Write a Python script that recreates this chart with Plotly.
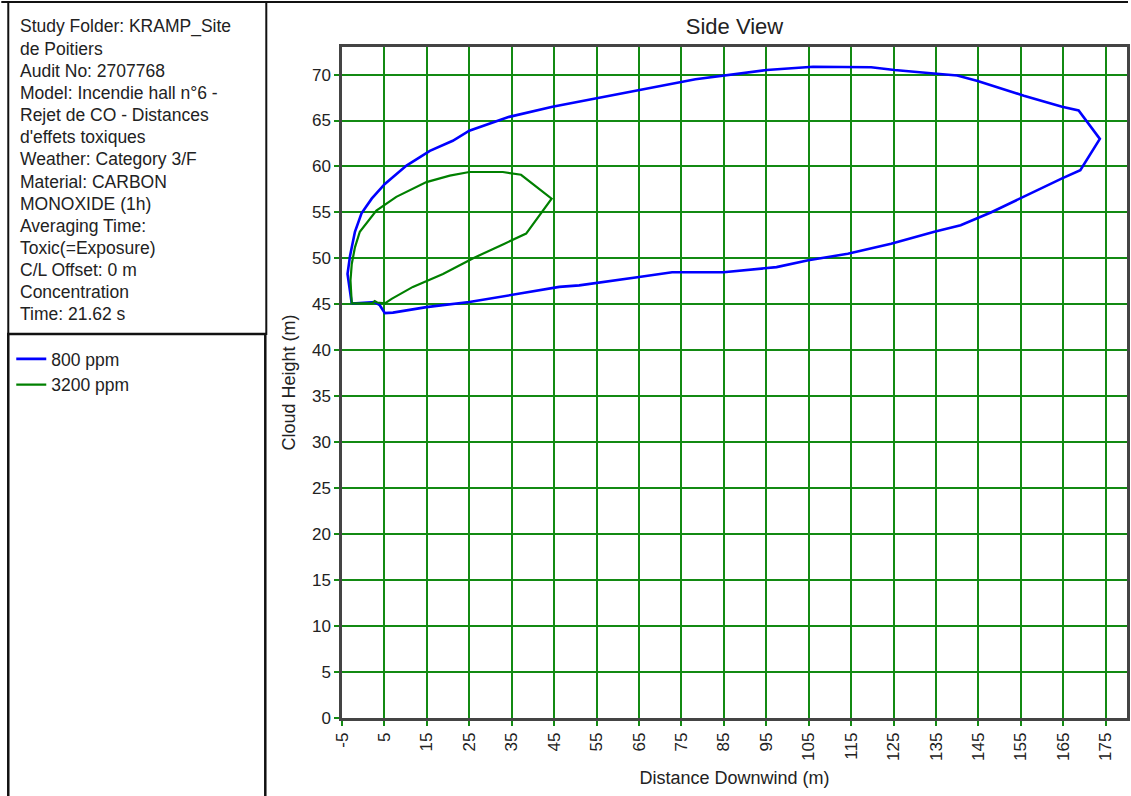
import plotly.graph_objects as go

# ---- data ----
blue_x = [-2.7, -3.3, -3.7, -3.1, -1.95, -0.4, 2.0, 5.1, 10.2, 15.7, 21.1, 25.0, 34.4, 44.6, 54.8, 65.0,
          78.3, 95.1, 106.0, 119.7, 125.2, 133.8, 140.0, 144.8, 155.7, 164.7, 168.6, 173.6, 169.0, 164.7,
          155.7, 147.9, 140.8, 134.6, 124.4, 114.2, 104.9, 97.4, 84.9, 72.8, 65.0, 50.9, 46.2, 34.8,
          25.0, 14.9, 7.0, 5.1, 3.9, 2.75, -2.7]
blue_y = [45.1, 47.2, 48.3, 50.3, 52.9, 54.9, 56.5, 58.1, 60.1, 61.7, 62.8, 63.9, 65.4, 66.5, 67.4, 68.3,
          69.5, 70.5, 70.85, 70.8, 70.5, 70.15, 69.9, 69.3, 67.7, 66.5, 66.1, 63.0, 59.6, 58.7,
          56.7, 55.0, 53.6, 52.9, 51.6, 50.5, 49.8, 49.05, 48.5, 48.5, 47.97, 47.07, 46.9, 46.05,
          45.25, 44.7, 44.1, 44.05, 44.9, 45.25, 45.1]

green_x = [-2.7, -3.0, -2.7, -1.95, -0.8, 3.1, 7.8, 14.9, 20.4, 25.0, 32.9, 37.2, 44.4, 38.4, 33.3,
           25.8, 18.8, 11.7, 6.7, 5.1, 3.3, 2.7, 2.1, -2.7]
green_y = [45.1, 47.6, 49.4, 51.2, 52.9, 55.2, 56.7, 58.3, 59.0, 59.4, 59.4, 59.1, 56.5, 52.7, 51.6,
           50.0, 48.3, 46.9, 45.6, 45.1, 45.2, 45.35, 45.1, 45.1]

series_names = ["800 ppm", "3200 ppm"]
series_colors = ["#0000ff", "#008000"]

x_ticks = list(range(-5, 180, 10))
y_ticks = list(range(0, 75, 5))

info_lines = [
    "Study Folder: KRAMP_Site",
    "de Poitiers",
    "Audit No: 2707768",
    "Model: Incendie hall n°6 -",
    "Rejet de CO - Distances",
    "d'effets toxiques",
    "Weather: Category 3/F",
    "Material: CARBON",
    "MONOXIDE (1h)",
    "Averaging Time:",
    "Toxic(=Exposure)",
    "C/L Offset: 0 m",
    "Concentration",
    "Time: 21.62 s",
]

# ---- geometry helpers (pixel -> paper) ----
W, H = 1131, 796
L, R, T, B = 342, 1, 47, 78
PW = W - L - R
PH = H - T - B


def px(x):
    return (x - L) / PW


def py(y):
    return (H - B - y) / PH


FONT = "Liberation Sans, Arial, sans-serif"
GRID = "#138a13"
TXT = "#222"

fig = go.Figure()
fig.add_trace(go.Scatter(x=blue_x, y=blue_y, mode="lines", name=series_names[0],
                         line=dict(color=series_colors[0], width=2.6)))
fig.add_trace(go.Scatter(x=green_x, y=green_y, mode="lines", name=series_names[1],
                         line=dict(color=series_colors[1], width=2.2)))

shapes = [
    # outer top line
    dict(type="line", xref="paper", yref="paper", x0=px(0), x1=px(W), y0=py(2), y1=py(2),
         line=dict(color="#111", width=2)),
    # info box
    dict(type="rect", xref="paper", yref="paper", x0=px(7), x1=px(266), y0=py(2), y1=py(334),
         line=dict(color="#111", width=2)),
    # legend box
    dict(type="rect", xref="paper", yref="paper", x0=px(7), x1=px(265), y0=py(334), y1=py(800),
         line=dict(color="#111", width=2.5)),
]

annotations = []
for i, t in enumerate(info_lines):
    annotations.append(dict(text=t, xref="paper", yref="paper", x=px(17), y=py(27 + i * 22.08),
                            xanchor="left", yanchor="middle", showarrow=False,
                            font=dict(family=FONT, size=17.5, color=TXT)))

fig.update_layout(
    width=W, height=H,
    margin=dict(l=L, r=R, t=T, b=B),
    paper_bgcolor="white", plot_bgcolor="white",
    title=dict(text="Side View", xref="paper", x=0.5, xanchor="center", y=1 - 26 / H, yanchor="middle",
               font=dict(family=FONT, size=22, color=TXT)),
    showlegend=True,
    legend=dict(x=px(10), y=py(341), xanchor="left", yanchor="top", bgcolor="rgba(0,0,0,0)",
                font=dict(family=FONT, size=17.5, color=TXT), tracegroupgap=0, itemwidth=30),
    shapes=shapes,
    annotations=annotations,
    xaxis=dict(range=[-5, 180], tickvals=x_ticks, ticktext=[str(v) for v in x_ticks], tickangle=-90,
               showgrid=True, gridcolor=GRID, gridwidth=1.5, zeroline=False,
               showline=True, linecolor="#444", linewidth=2.5, mirror=True,
               ticks="outside", ticklen=5, tickcolor=GRID, tickwidth=1.5,
               tickfont=dict(family=FONT, size=17, color=TXT),
               title=dict(text="Distance Downwind (m)", font=dict(family=FONT, size=18, color=TXT),
                          standoff=12)),
    yaxis=dict(range=[0, 73], tickvals=y_ticks, ticktext=[str(v) for v in y_ticks],
               showgrid=True, gridcolor=GRID, gridwidth=1.5, zeroline=False,
               showline=True, linecolor="#444", linewidth=2.5, mirror=True,
               ticks="outside", ticklen=5, tickcolor=GRID, tickwidth=1.5,
               tickfont=dict(family=FONT, size=17, color=TXT),
               title=dict(text="Cloud Height (m)", font=dict(family=FONT, size=18, color=TXT),
                          standoff=12)),
)

fig.write_html("out.html")
